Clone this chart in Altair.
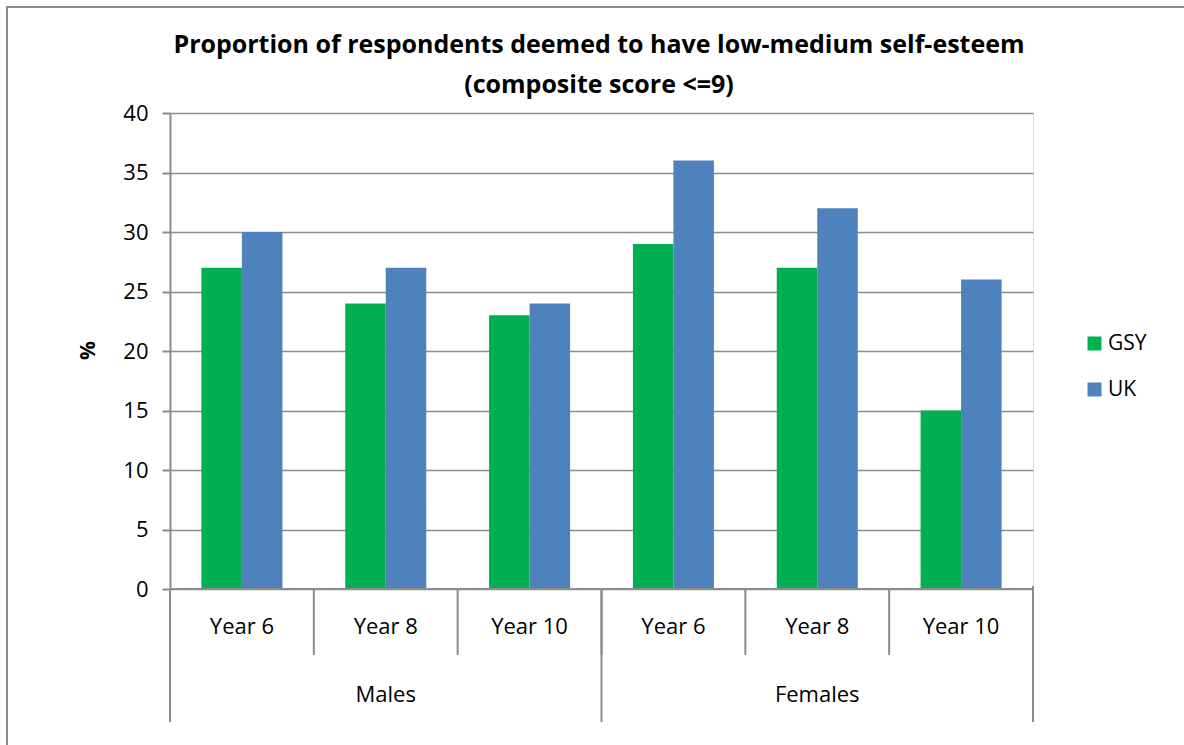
import altair as alt
import pandas as pd

# Survey results: share of pupils with low-medium self-esteem (%)
groups = ["Males", "Males", "Males", "Females", "Females", "Females"]
years = ["Year 6", "Year 8", "Year 10", "Year 6", "Year 8", "Year 10"]
gsy = [27, 24, 23, 29, 27, 15]
uk = [30, 27, 24, 36, 32, 26]
series = ["GSY", "UK"]
colors = ["#00B050", "#4F81BD"]
y_ticks = [0, 5, 10, 15, 20, 25, 30, 35, 40]
title_lines = ["Proportion of respondents deemed to have low-medium self-esteem",
               "(composite score <=9)"]

FONT = "Open Sans"
GREY = "#8c8c8c"
W, H = 863, 476

keys = [f"{g}|{y}" for g, y in zip(groups, years)]

rows = []
for k, g, y, a, b in zip(keys, groups, years, gsy, uk):
    rows.append({"key": k, "group": g, "year": y, "series": "GSY", "value": a})
    rows.append({"key": k, "group": g, "year": y, "series": "UK", "value": b})
bars_df = pd.DataFrame(rows)
cat_df = pd.DataFrame({"key": keys, "group": groups, "year": years})

xscale = alt.Scale(domain=keys, paddingInner=0, paddingOuter=0)


def xenc(band=0.5):
    return alt.X("key:N", sort=keys, scale=xscale, axis=None, bandPosition=band)


bars = alt.Chart(bars_df).mark_bar().encode(
    x=alt.X("key:N", sort=keys, scale=xscale, axis=None),
    xOffset=alt.XOffset("series:N", sort=series,
                        scale=alt.Scale(paddingInner=0, paddingOuter=0.775)),
    y=alt.Y("value:Q", scale=alt.Scale(domain=[0, 40]),
            axis=alt.Axis(values=y_ticks, grid=True, gridColor=GREY, gridWidth=1.5,
                          domainColor=GREY, domainWidth=2, tickColor=GREY,
                          tickWidth=2, tickSize=8, labelFontSize=22, labelFont=FONT,
                          labelColor="black", labelPadding=14,
                          title="%", titleFont=FONT, titleFontSize=21,
                          titleFontWeight="bold", titleColor="black",
                          titleX=-82, titleY=237, titleAngle=-90,
                          titleBaseline="middle", titleAlign="center")),
    color=alt.Color("series:N", sort=series,
                    scale=alt.Scale(domain=series, range=colors),
                    legend=alt.Legend(title=None, orient="none", legendX=914,
                                      legendY=220, symbolType="square",
                                      symbolSize=196, symbolStrokeWidth=0,
                                      labelFontSize=21, labelFont=FONT,
                                      labelColor="black", rowPadding=24,
                                      labelOffset=3)),
)

# baseline of the value axis
base = alt.Chart(pd.DataFrame({"v": [0]})).mark_rule(color=GREY, strokeWidth=2).encode(
    y=alt.Y("v:Q"), x=alt.value(0), x2=alt.value(W)
)

# category separators (inner level)
sep_start = alt.Chart(cat_df).mark_rule(color=GREY, strokeWidth=2).encode(
    x=xenc(0), y=alt.value(H), y2=alt.value(H + 66)
)
sep_end = alt.Chart(cat_df.tail(1)).mark_rule(color=GREY, strokeWidth=2).encode(
    x=xenc(1), y=alt.value(H - 3), y2=alt.value(H + 133)
)
# group separators (outer level)
grp_start = alt.Chart(cat_df[cat_df["year"] == "Year 6"]).mark_rule(
    color=GREY, strokeWidth=2).encode(x=xenc(0), y=alt.value(H), y2=alt.value(H + 133))

year_text = alt.Chart(cat_df).mark_text(fontSize=22, font=FONT, color="black").encode(
    x=xenc(0.5), y=alt.value(H + 38), text="year:N"
)
grp_text = alt.Chart(cat_df[cat_df["year"] == "Year 8"]).mark_text(
    fontSize=22, font=FONT, color="black").encode(
    x=xenc(0.5), y=alt.value(H + 106), text="group:N"
)

# two-line chart heading
head_df = pd.DataFrame({"line": title_lines, "pos": [-68, -28]})
heading = alt.Chart(head_df).mark_text(
    fontSize=25, font=FONT, fontWeight="bold", color="black",
    baseline="middle", align="center").encode(
    x=alt.value(429), y=alt.Y("pos:Q", scale=None), text="line:N"
)

frame = alt.Chart(pd.DataFrame({"f": [0]})).mark_rect(
    fillOpacity=0, stroke=GREY, strokeWidth=2).encode(
    x=alt.value(-163), x2=alt.value(W + 200), y=alt.value(-106), y2=alt.value(H + 200)
)

chart = alt.layer(
    frame, bars, base, sep_start, sep_end, grp_start, year_text, grp_text, heading
).properties(
    width=W, height=H,
    autosize=alt.AutoSizeParams(type="none"),
    padding={"left": 170, "top": 113, "right": 151, "bottom": 156},
).configure_view(stroke=None).configure(background="white")

chart.save("out.html", embed_options={"renderer": "svg", "actions": False})
